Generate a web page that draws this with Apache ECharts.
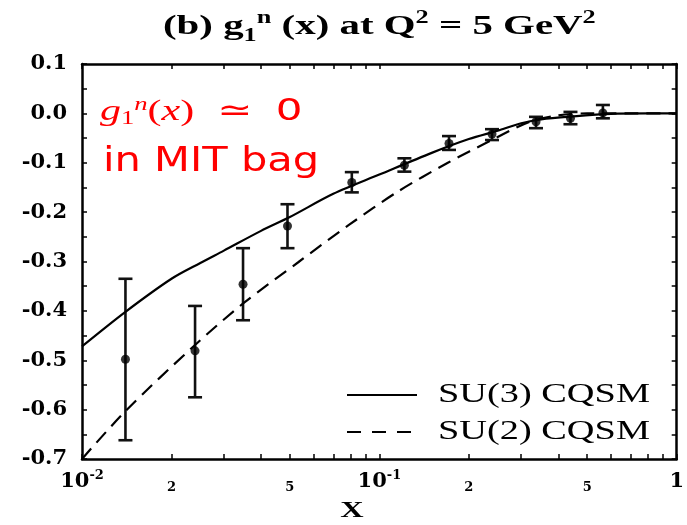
<!DOCTYPE html>
<html>
<head>
<meta charset="utf-8">
<script src="https://cdn.jsdelivr.net/npm/echarts@6/dist/echarts.min.js"></script>
<style>
html, body { margin: 0; padding: 0; background: #fff; }
#chart { width: 687px; height: 525px; }
</style>
</head>
<body>
<div id="chart"></div>
<script>
// SU(3) chiral quark soliton model prediction for g1n(x)
const su3X = [0.01, 0.014, 0.02, 0.025, 0.03, 0.04, 0.05, 0.07, 0.1, 0.15, 0.2, 0.25, 0.3, 0.35, 0.45, 0.6, 0.8, 1.0];
const su3Y = [-0.472, -0.402, -0.335, -0.303, -0.278, -0.238, -0.210, -0.163, -0.124, -0.080, -0.052, -0.035, -0.020, -0.012, -0.006, -0.001, 0.0, 0.0];

// SU(2) chiral quark soliton model prediction
const su2X = [0.01, 0.014, 0.024, 0.035, 0.0535, 0.079, 0.115, 0.17, 0.239, 0.32, 0.4, 0.5, 0.7, 1.0];
const su2Y = [-0.700, -0.603, -0.469, -0.384, -0.301, -0.226, -0.159, -0.100, -0.054, -0.017, -0.004, 0.0, 0.0, 0.0];

// Measured points with error bars
const dataX   = [0.0140, 0.0240, 0.0348, 0.0491, 0.0808, 0.1214, 0.1715, 0.2393, 0.3364, 0.4393, 0.5647];
const dataY   = [-0.498, -0.481, -0.346, -0.228, -0.140, -0.105, -0.061, -0.042, -0.017, -0.010, 0.001];
const errLow  = [-0.662, -0.575, -0.419, -0.273, -0.160, -0.118, -0.074, -0.054, -0.030, -0.022, -0.010];
const errHigh = [-0.335, -0.390, -0.273, -0.184, -0.119, -0.091, -0.046, -0.032, -0.007, 0.003, 0.017];

// Axis ticks and labels
const xTickValues = [0.01, 0.02, 0.03, 0.04, 0.05, 0.06, 0.07, 0.08, 0.09,
                     0.1, 0.2, 0.3, 0.4, 0.5, 0.6, 0.7, 0.8, 0.9, 1];
const xDecadeLabels = [0.01, 0.1, 1];
const xMinorLabels = [0.02, 0.05, 0.2, 0.5];
const yMin = -0.7, yMax = 0.1, yStep = 0.1;

const titleText = '{a|(b) g}{sub|1}{sup|n}{a| (x) at Q}{sup|2}{a| = 5 GeV}{sup|2}';
const legendNames = ['SU(3) CQSM', 'SU(2) CQSM'];

const serif = 'Liberation Serif';
const labelSerif = 'DejaVu Serif';

function zip(xs, ys) { return xs.map((x, i) => [x, ys[i]]); }

function decadeLabel(v) {
  if (Math.abs(v - 1) < 1e-9) return '{b|1}';
  const p = Math.round(Math.log10(v));
  return '{b|10}{s|' + p + '}';
}

function renderErrorBar(params, api) {
  const x = api.value(0);
  const lo = api.coord([x, api.value(1)]);
  const hi = api.coord([x, api.value(2)]);
  const half = 7;
  const style = { stroke: '#111', lineWidth: 2.6 };
  return {
    type: 'group',
    children: [
      { type: 'line', shape: { x1: lo[0], y1: lo[1], x2: hi[0], y2: hi[1] }, style: style },
      { type: 'line', shape: { x1: lo[0] - half, y1: lo[1], x2: lo[0] + half, y2: lo[1] }, style: style },
      { type: 'line', shape: { x1: hi[0] - half, y1: hi[1], x2: hi[0] + half, y2: hi[1] }, style: style }
    ]
  };
}

const frameLine = { show: true, onZero: false, lineStyle: { color: '#000', width: 2.5 } };
const tickStyle = { color: '#000', width: 1.5 };

const chart = echarts.init(document.getElementById('chart'));

chart.setOption({
  animation: false,
  backgroundColor: '#fff',
  grid: { left: 82, right: 6, top: 64, bottom: 66, containLabel: false },
  xAxis: [
    {
      type: 'log', logBase: 10, min: 0.01, max: 1, position: 'bottom',
      axisLine: frameLine,
      axisTick: { show: true, inside: true, length: 5, customValues: xTickValues, lineStyle: tickStyle },
      axisLabel: {
        customValues: xDecadeLabels,
        formatter: decadeLabel,
        margin: 10,
        rich: {
          b: { fontFamily: labelSerif, fontWeight: 'bold', fontSize: 21, color: '#000', lineHeight: 26, verticalAlign: 'middle' },
          s: { fontFamily: labelSerif, fontWeight: 'bold', fontSize: 13, color: '#000', lineHeight: 13, verticalAlign: 'top' }
        }
      },
      splitLine: { show: false }
    },
    {
      type: 'log', logBase: 10, min: 0.01, max: 1, position: 'bottom',
      axisLine: { show: false },
      axisTick: { show: false },
      axisLabel: {
        customValues: xMinorLabels,
        formatter: v => String(Math.round(v / Math.pow(10, Math.floor(Math.log10(v) + 1e-9)))),
        margin: 22,
        fontFamily: labelSerif, fontWeight: 'bold', fontSize: 13, color: '#000'
      },
      splitLine: { show: false }
    },
    {
      type: 'log', logBase: 10, min: 0.01, max: 1, position: 'top',
      axisLine: frameLine,
      axisTick: { show: true, inside: true, length: 5, customValues: xTickValues, lineStyle: tickStyle },
      axisLabel: { show: false },
      splitLine: { show: false }
    }
  ],
  yAxis: [
    {
      type: 'value', min: yMin, max: yMax, interval: yStep, position: 'left',
      axisLine: frameLine,
      axisTick: { show: true, inside: true, length: 5, lineStyle: tickStyle },
      minorTick: { show: true, splitNumber: 2, length: 5, lineStyle: tickStyle },
      axisLabel: {
        formatter: v => (Math.abs(v) < 1e-9 ? '0.0' : v.toFixed(1)),
        fontFamily: labelSerif, fontWeight: 'bold', fontSize: 21, color: '#000', margin: 15
      },
      splitLine: { show: false }
    },
    {
      type: 'value', min: yMin, max: yMax, interval: yStep, position: 'right',
      axisLine: frameLine,
      axisTick: { show: true, inside: true, length: 5, lineStyle: tickStyle },
      minorTick: { show: true, splitNumber: 2, length: 5, lineStyle: tickStyle },
      axisLabel: { show: false },
      splitLine: { show: false }
    }
  ],
  series: [
    {
      name: legendNames[0], type: 'line', data: zip(su3X, su3Y),
      smooth: 0.3, showSymbol: false, silent: true,
      lineStyle: { color: '#000', width: 2.2 }
    },
    {
      name: legendNames[1], type: 'line', data: zip(su2X, su2Y),
      smooth: 0.3, showSymbol: false, silent: true,
      lineStyle: { color: '#000', width: 2.2, type: [14, 8] }
    },
    {
      type: 'custom', renderItem: renderErrorBar,
      data: dataX.map((x, i) => [x, errLow[i], errHigh[i]]),
      encode: { x: 0, y: [1, 2] }, silent: true, z: 3
    },
    {
      type: 'scatter', data: zip(dataX, dataY),
      symbol: 'circle', symbolSize: 9, itemStyle: { color: '#000' }, silent: true, z: 4
    }
  ],
  graphic: [
    {
      type: 'text', x: 163, y: 27, scaleX: 1.46,
      style: {
        text: titleText, textVerticalAlign: 'middle', fill: '#000',
        rich: {
          a: { fontFamily: serif, fontWeight: 'bold', fontSize: 28, lineHeight: 36, fill: '#000' },
          sup: { fontFamily: serif, fontWeight: 'bold', fontSize: 18, lineHeight: 17, verticalAlign: 'top', fill: '#000' },
          sub: { fontFamily: serif, fontWeight: 'bold', fontSize: 18, lineHeight: 14, verticalAlign: 'bottom', fill: '#000' }
        }
      }
    },
    {
      type: 'text', x: 100, y: 112, scaleX: 1.4,
      style: {
        text: '{i|g}{sub|1}{sup|n}{r|(}{i|x}{r|)}{sp|  }{op|≃}{sp|  }{z|0}',
        textVerticalAlign: 'middle',
        rich: {
          i: { fontFamily: serif, fontStyle: 'italic', fontSize: 30, lineHeight: 34, fill: '#ff0000' },
          r: { fontFamily: serif, fontSize: 30, lineHeight: 34, fill: '#ff0000' },
          sub: { fontFamily: serif, fontSize: 19, lineHeight: 14, verticalAlign: 'bottom', fill: '#ff0000' },
          sup: { fontFamily: serif, fontStyle: 'italic', fontSize: 19, lineHeight: 17, verticalAlign: 'top', fill: '#ff0000' },
          sp: { fontFamily: 'DejaVu Sans', fontSize: 26, lineHeight: 34, fill: '#ff0000' },
          op: { fontFamily: 'DejaVu Sans', fontSize: 30, lineHeight: 34, fill: '#ff0000' },
          z: { fontFamily: 'DejaVu Sans', fontSize: 30, lineHeight: 34, fill: '#ff0000' }
        }
      }
    },
    {
      type: 'text', x: 103, y: 162, scaleX: 1.26,
      style: { text: 'in MIT bag', fontFamily: 'DejaVu Sans', fontSize: 33, fill: '#ff0000', textVerticalAlign: 'middle' }
    },
    {
      type: 'line', shape: { x1: 347, y1: 395, x2: 417, y2: 395 },
      style: { stroke: '#000', lineWidth: 2.2 }
    },
    {
      type: 'line', shape: { x1: 347, y1: 432, x2: 417, y2: 432 },
      style: { stroke: '#000', lineWidth: 2.2, lineDash: [14, 11] }
    },
    {
      type: 'text', x: 438, y: 395, scaleX: 1.42,
      style: { text: legendNames[0], fontFamily: serif, fontSize: 27, fill: '#000', textVerticalAlign: 'middle' }
    },
    {
      type: 'text', x: 438, y: 432, scaleX: 1.42,
      style: { text: legendNames[1], fontFamily: serif, fontSize: 27, fill: '#000', textVerticalAlign: 'middle' }
    },
    {
      type: 'text', x: 352, y: 511, scaleX: 1.35,
      style: { text: 'X', fontFamily: serif, fontWeight: 'bold', fontSize: 24, fill: '#000', textAlign: 'center', textVerticalAlign: 'middle' }
    }
  ]
});
</script>
</body>
</html>
